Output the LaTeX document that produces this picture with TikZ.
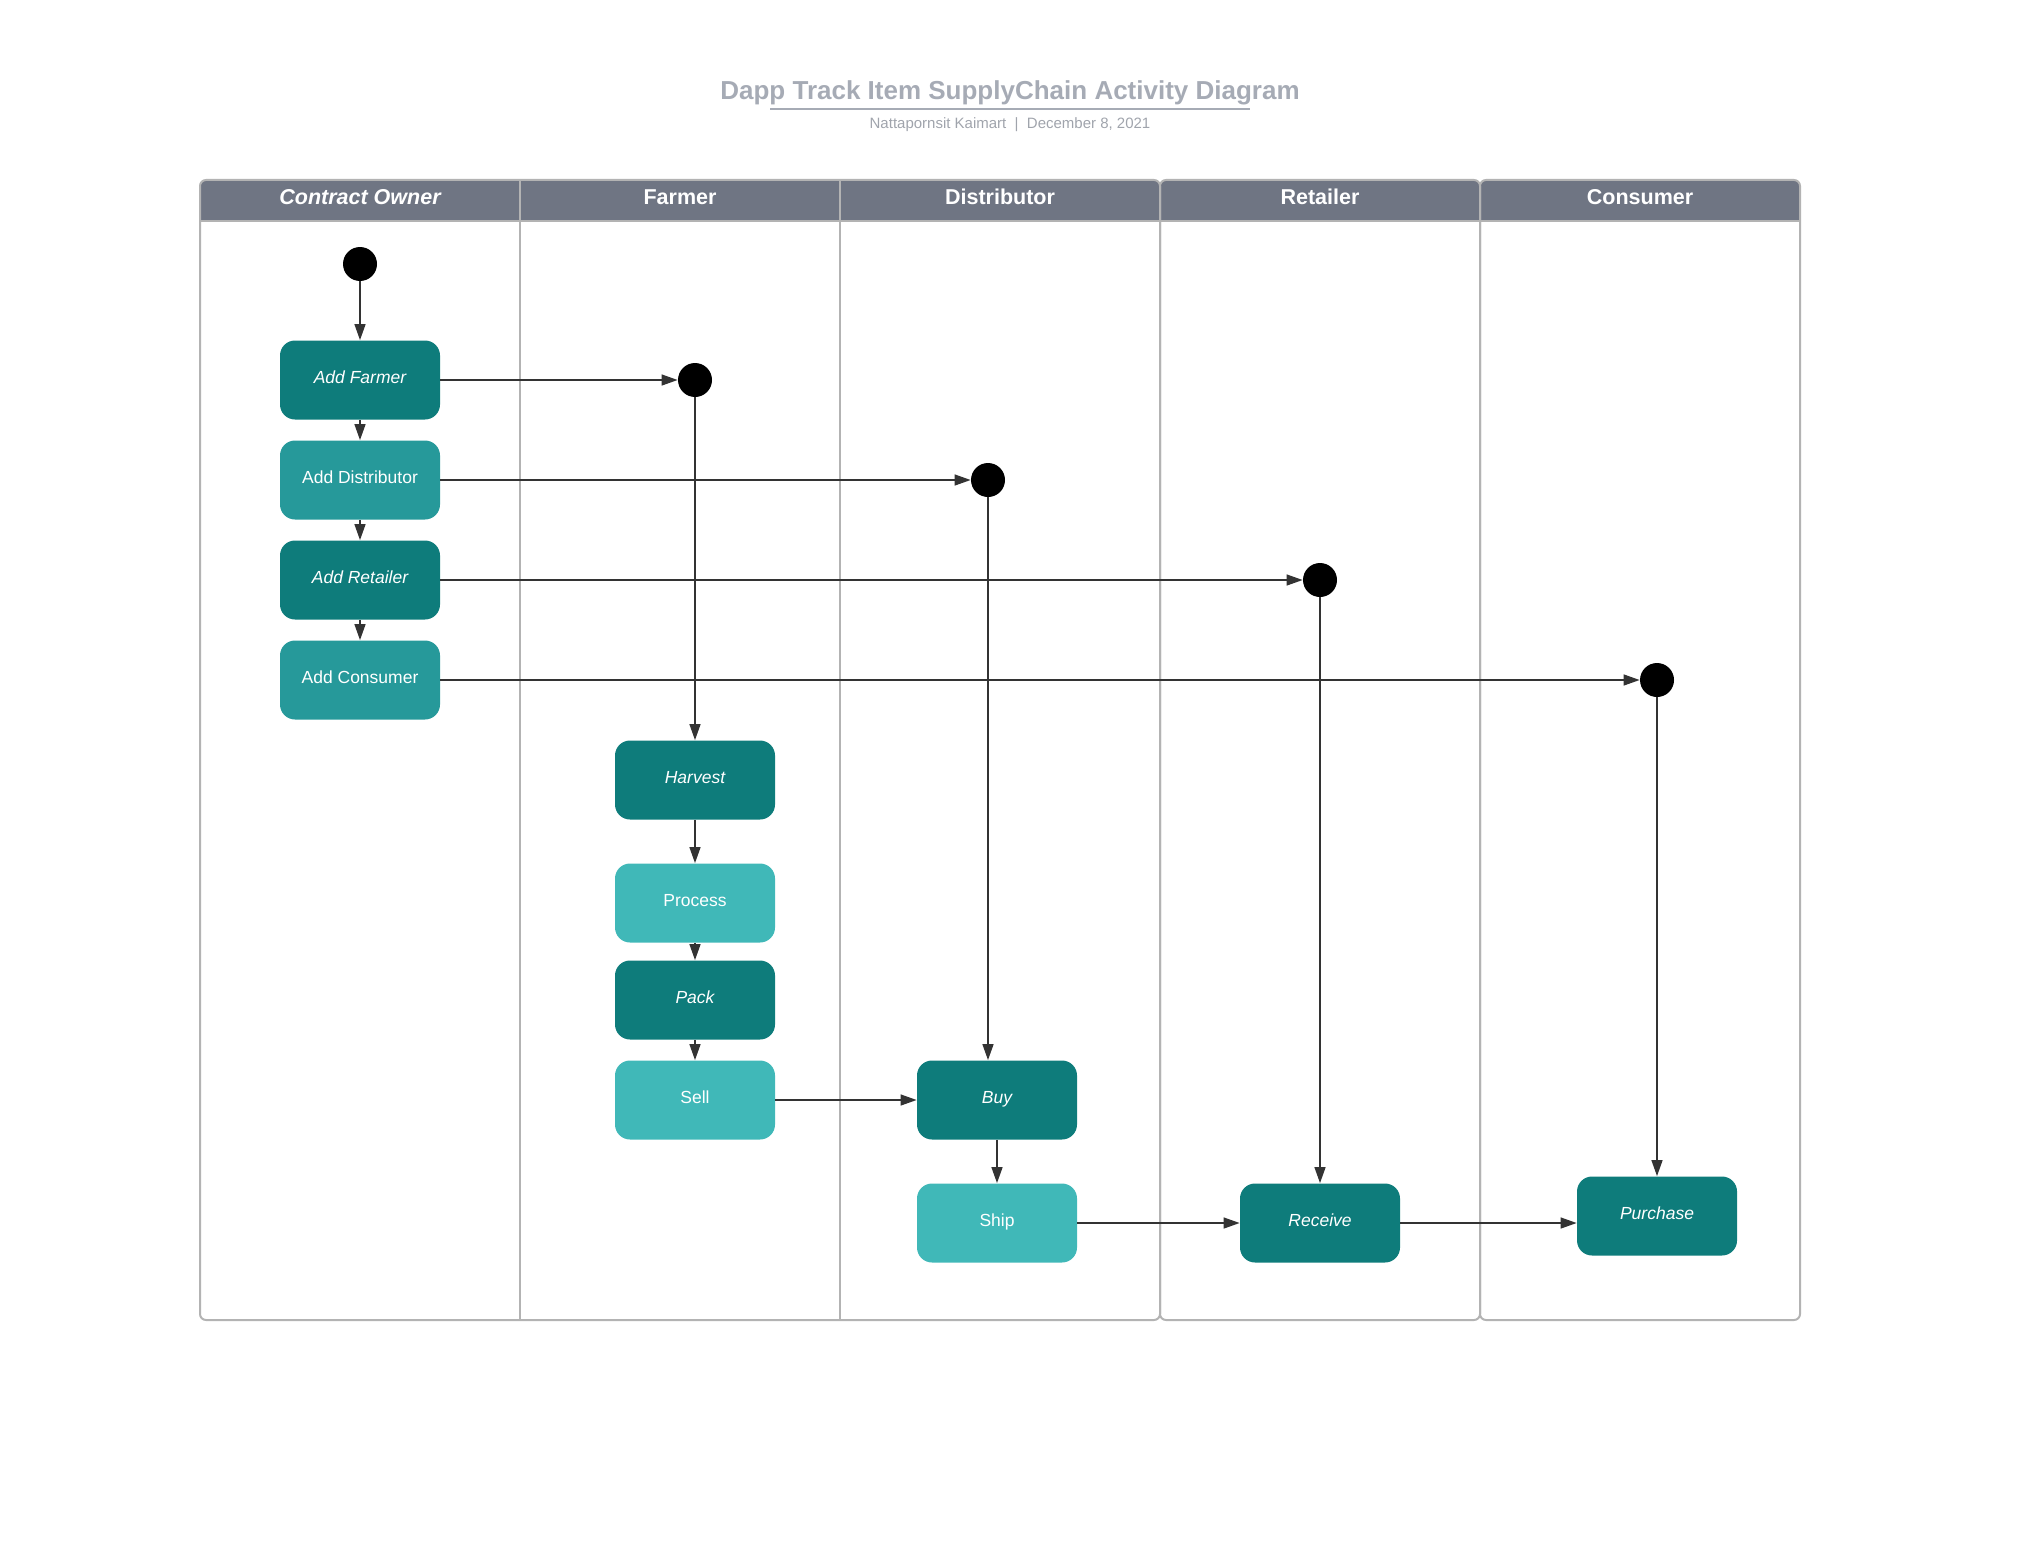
\documentclass[tikz,border=0pt]{standalone}
\usepackage{fontspec}
\setmainfont{Liberation Sans}
\usetikzlibrary{arrows.meta,calc}
\definecolor{tdark}{HTML}{0E7C7B}
\definecolor{tmid}{HTML}{26999A}
\definecolor{tlight}{HTML}{40B8B8}
\definecolor{hdrfill}{HTML}{6F7583}
\definecolor{laneclr}{HTML}{B3B3B3}
\definecolor{titleclr}{HTML}{A6ABB5}
\definecolor{subclr}{HTML}{A0A4AC}
\definecolor{lineclr}{HTML}{333333}
\begin{document}
\begin{tikzpicture}[x=0.5pt,y=-0.5pt,
  act/.style={rectangle, rounded corners=7.5pt, minimum width=80pt, minimum height=39.5pt,
    inner sep=0pt, text depth=2.5pt, text=white, font=\fontsize{8.75}{10}\selectfont},
  darkact/.style={act, fill=tdark, font=\fontsize{8.75}{10}\selectfont\itshape},
  midact/.style={act, fill=tmid},
  lightact/.style={act, fill=tlight},
  dot/.style={circle, fill=black, minimum size=17pt, inner sep=0pt},
  flow/.style={draw=lineclr, line width=0.7pt, -{Triangle[length=8pt,width=5.5pt]}},
  hdr/.style={text=white, anchor=base, inner sep=0pt, font=\fontsize{10.75}{12}\selectfont\bfseries},
  lane/.style={draw=laneclr, line width=1pt}]
\useasboundingbox (0,0) rectangle (2032,1562);

% pools
\foreach \a/\b in {200/1160, 1160/1480, 1480/1800} {
  \fill[hdrfill, rounded corners=3pt] (\a,180) rectangle (\b,221);
  \fill[hdrfill] (\a,200) rectangle (\b,221);
}
\draw[lane] (520,180) -- (520,1320);
\draw[lane] (840,180) -- (840,1320);
\foreach \a/\b in {200/1160, 1160/1480, 1480/1800} {
  \draw[lane, rounded corners=3pt] (\a,180) rectangle (\b,1320);
  \draw[lane] (\a,221) -- (\b,221);
}

% headers
\node[hdr] (hco) at (360,205) {\itshape Contract Owner};
\node[hdr] (hfa) at (680,205) {Farmer};
\node[hdr] (hdi) at (1000,205) {Distributor};
\node[hdr] (hre) at (1320,205) {Retailer};
\node[hdr] (hcu) at (1640,205) {Consumer};

% title
\node[anchor=base, inner sep=0pt, text=titleclr, font=\fontsize{13}{15}\selectfont\bfseries] (title) at (1010,100) {Dapp Track Item SupplyChain Activity Diagram};
\draw[titleclr, line width=1.3pt] (770,109) -- (1250,109);
\node[anchor=base, inner sep=0pt, text=subclr, font=\fontsize{7.5}{9}\selectfont] (sub) at (1010,129) {Nattapornsit Kaimart \ | \ December 8, 2021};

% nodes
\node[dot] (s1) at (360,264) {};
\node[darkact] (addF) at (360,380) {Add Farmer};
\node[midact] (addD) at (360,480) {Add Distributor};
\node[darkact] (addR) at (360,580) {Add Retailer};
\node[midact] (addC) at (360,680) {Add Consumer};

\node[dot] (c2) at (695,380) {};
\node[dot] (c3) at (988,480) {};
\node[dot] (c4) at (1320,580) {};
\node[dot] (c5) at (1657,680) {};

\node[darkact] (harv) at (695,780) {Harvest};
\node[lightact] (proc) at (695,903) {Process};
\node[darkact] (pack) at (695,1000) {Pack};
\node[lightact] (sell) at (695,1100) {Sell};

\node[darkact] (buy) at (997,1100) {Buy};
\node[lightact] (ship) at (997,1223) {Ship};
\node[darkact] (recv) at (1320,1223) {Receive};
\node[darkact] (purch) at (1657,1216) {Purchase};

% connectors
\draw[flow] (s1) -- (addF);
\draw[flow] (addF) -- (addD);
\draw[flow] (addD) -- (addR);
\draw[flow] (addR) -- (addC);
\draw[flow] (addF) -- (c2);
\draw[flow] (addD) -- (c3);
\draw[flow] (addR) -- (c4);
\draw[flow] (addC) -- (c5);
\draw[flow] (c2) -- (harv);
\draw[flow] (harv) -- (proc);
\draw[flow] (proc) -- (pack);
\draw[flow] (pack) -- (sell);
\draw[flow] (sell) -- (buy);
\draw[flow] (c3) -- (c3 |- buy.north);
\draw[flow] (buy) -- (ship);
\draw[flow] (c4) -- (recv);
\draw[flow] (ship) -- (recv);
\draw[flow] (recv) -- (recv -| purch.west);
\draw[flow] (c5) -- (purch);
\end{tikzpicture}
\end{document}
